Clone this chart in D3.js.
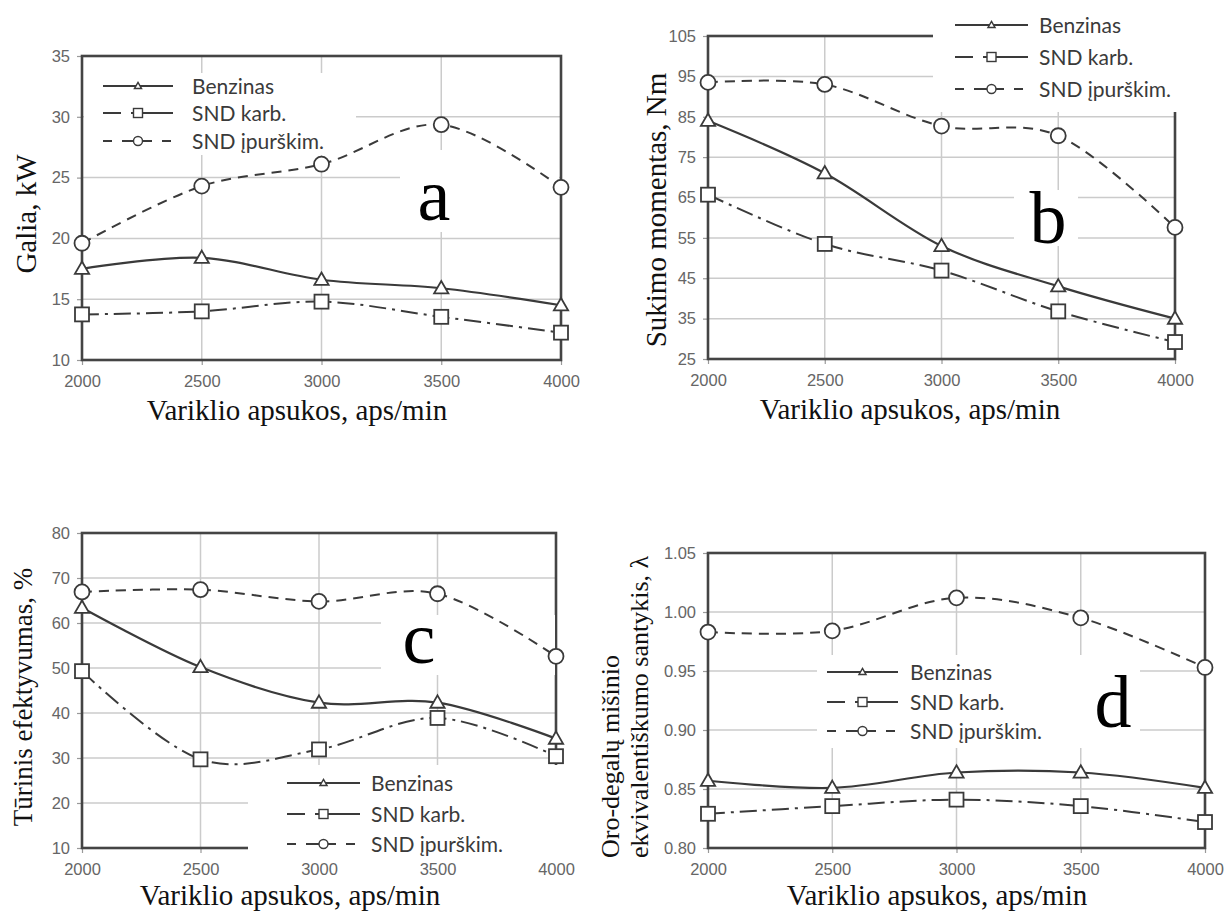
<!DOCTYPE html>
<html><head><meta charset="utf-8">
<script src="https://cdn.jsdelivr.net/npm/d3@7"></script>
<style>body{margin:0;background:#fff}</style>
</head><body><svg id="chart" width="1225" height="911"></svg>
<script>
// ---------- data ----------
const rpm = [2000, 2500, 3000, 3500, 4000];
const xTicks = [2000, 2500, 3000, 3500, 4000];
const seriesNames = ["Benzinas", "SND karb.", "SND įpurškim."];

const galiaBenzinas = [17.5, 18.4, 16.6, 15.9, 14.5];
const galiaKarb = [13.75, 14.0, 14.8, 13.55, 12.25];
const galiaIpurskim = [19.6, 24.3, 26.1, 29.35, 24.2];
const galiaTicks = [10, 15, 20, 25, 30, 35];

const momentBenzinas = [84, 71, 53, 43, 35];
const momentKarb = [65.7, 53.5, 46.9, 36.8, 29.2];
const momentIpurskim = [93.5, 93, 82.7, 80.3, 57.6];
const momentTicks = [25, 35, 45, 55, 65, 75, 85, 95, 105];

const efektBenzinas = [63.4, 50.2, 42.3, 42.3, 34.3];
const efektKarb = [49.3, 29.7, 31.9, 38.9, 30.4];
const efektIpurskim = [66.9, 67.4, 64.8, 66.5, 52.6];
const efektTicks = [10, 20, 30, 40, 50, 60, 70, 80];

const lambdaBenzinas = [0.857, 0.851, 0.864, 0.864, 0.851];
const lambdaKarb = [0.829, 0.8355, 0.841, 0.8355, 0.822];
const lambdaIpurskim = [0.983, 0.984, 1.012, 0.995, 0.953];
const lambdaTicks = [0.80, 0.85, 0.90, 0.95, 1.00, 1.05];

const xTitle = "Variklio apsukos, aps/min";

// ---------- styles ----------
const INK = "#3a3a3a";
const GRID = "#cbcbcb";
const FRAME = "#444";
const TICKTXT = "#666";
const dashes = [null, "17,6,3,6", "10,7"];
const legendDashes = [null, "18,10,200", "9,10,30,10,9"];

const svg = d3.select("#chart");

const panels = [
  { l: 82, r: 561, t: 56, b: 360, ticks: galiaTicks, fmt: d3.format("d"),
    series: [galiaBenzinas, galiaKarb, galiaIpurskim],
    yTitle: ["Galia, kW"], yTitleX: [36], yTitleY: 214, yTitleSize: 29, yAnchor: "middle",
    xTitleX: 297, xTitleDy: 60, letter: "a", letterX: 434, letterY: 220,
    boxes: [[84, 73, 272, 82], [400, 150, 159, 82]],
    legend: { x0: 103, x1: 173, tx: 192, rows: [86, 113, 141] } },
  { l: 708, r: 1175, t: 36, b: 359, ticks: momentTicks, fmt: d3.format("d"),
    series: [momentBenzinas, momentKarb, momentIpurskim],
    yTitle: ["Sukimo momentas, Nm"], yTitleX: [666], yTitleY: 210, yTitleSize: 29, yAnchor: "middle",
    xTitleX: 910, xTitleDy: 60, letter: "b", letterX: 1048, letterY: 243,
    boxes: [[933, 0, 292, 112], [1014, 190, 64, 56]],
    legend: { x0: 955, x1: 1028, tx: 1039, rows: [25, 57, 89] } },
  { l: 82, r: 556, t: 533, b: 848, ticks: efektTicks, fmt: d3.format("d"),
    series: [efektBenzinas, efektKarb, efektIpurskim],
    yTitle: ["Tūrinis efektyvumas, %"], yTitleX: [32], yTitleY: 697, yTitleSize: 27, yAnchor: "middle",
    xTitleX: 290, xTitleDy: 57, letter: "c", letterX: 419, letterY: 663,
    boxes: [[248, 765, 316, 93], [381, 615, 174, 60]],
    legend: { x0: 287, x1: 360, tx: 371, rows: [783, 814, 844] } },
  { l: 708, r: 1205, t: 553, b: 848, ticks: lambdaTicks, fmt: d3.format(".2f"),
    series: [lambdaBenzinas, lambdaKarb, lambdaIpurskim],
    yTitle: ["Oro-degalų mišinio", "ekvivalentiškumo santykis, λ"], yTitleX: [619, 648], yTitleY: 858, yTitleSize: 26, yAnchor: "start",
    xTitleX: 937, xTitleDy: 57, letter: "d", letterX: 1113, letterY: 727,
    boxes: [[817, 655, 323, 93]],
    legend: { x0: 827, x1: 898, tx: 910, rows: [672, 702, 731] } }
];

function marker(g, kind, cx, cy, big) {
  if (kind === 0) {
    const s = big ? 88 : 22;
    g.append("path").attr("d", d3.symbol(d3.symbolTriangle, s)())
      .attr("transform", `translate(${cx},${cy + (big ? 1 : 0.5)})`)
      .attr("fill", "#fff").attr("stroke", INK).attr("stroke-width", big ? 1.8 : 1.4);
  } else if (kind === 1) {
    const h = big ? 7 : 4.5;
    g.append("rect").attr("x", cx - h).attr("y", cy - h).attr("width", 2 * h).attr("height", 2 * h)
      .attr("fill", "#fff").attr("stroke", INK).attr("stroke-width", big ? 1.8 : 1.4);
  } else {
    g.append("circle").attr("cx", cx).attr("cy", cy).attr("r", big ? 7.5 : 4.5)
      .attr("fill", "#fff").attr("stroke", INK).attr("stroke-width", big ? 1.8 : 1.4);
  }
}

panels.forEach(p => {
  const g = svg.append("g");
  const x = d3.scaleLinear().domain([xTicks[0], xTicks[xTicks.length - 1]]).range([p.l, p.r]);
  const y = d3.scaleLinear().domain([p.ticks[0], p.ticks[p.ticks.length - 1]]).range([p.b, p.t]);

  // grid
  g.append("g").selectAll("line").data(p.ticks).join("line")
    .attr("x1", p.l).attr("x2", p.r).attr("y1", d => y(d)).attr("y2", d => y(d))
    .attr("stroke", GRID).attr("stroke-width", 1.5);
  g.append("g").selectAll("line").data(xTicks).join("line")
    .attr("x1", d => x(d)).attr("x2", d => x(d)).attr("y1", p.t).attr("y2", p.b)
    .attr("stroke", GRID).attr("stroke-width", 1.5);

  // axes
  const ya = g.append("g").attr("transform", `translate(${p.l},0)`)
    .call(d3.axisLeft(y).tickValues(p.ticks).tickFormat(p.fmt).tickSize(5).tickPadding(7));
  const xa = g.append("g").attr("transform", `translate(0,${p.b})`)
    .call(d3.axisBottom(x).tickValues(xTicks).tickFormat(d3.format("d")).tickSize(5).tickPadding(10));
  [ya, xa].forEach(a => {
    a.select(".domain").remove();
    a.selectAll("line").attr("stroke", "#999").attr("stroke-width", 1.2);
    a.selectAll("text").attr("fill", TICKTXT).style("font-family", "'Liberation Sans', Arial, sans-serif")
      .style("font-size", "16.5px");
  });

  // frame
  g.append("rect").attr("x", p.l).attr("y", p.t).attr("width", p.r - p.l).attr("height", p.b - p.t)
    .attr("fill", "none").attr("stroke", FRAME).attr("stroke-width", 2.6);

  // white boxes (legend / letter backgrounds)
  p.boxes.forEach(bx => g.append("rect").attr("x", bx[0]).attr("y", bx[1])
    .attr("width", bx[2]).attr("height", bx[3]).attr("fill", "#fff"));

  // letter
  g.append("text").attr("x", p.letterX).attr("y", p.letterY).attr("text-anchor", "middle")
    .style("font-family", "'Liberation Serif', 'Times New Roman', serif").style("font-size", "74px")
    .attr("fill", "#000").text(p.letter);

  // series
  const line = d3.line().x((d, i) => x(rpm[i])).y(d => y(d)).curve(d3.curveCatmullRom.alpha(0));
  p.series.forEach((vals, k) => {
    g.append("path").attr("d", line(vals)).attr("fill", "none").attr("stroke", INK)
      .attr("stroke-width", k === 0 ? 2.2 : 2).attr("stroke-dasharray", dashes[k]);
  });
  p.series.forEach((vals, k) => {
    vals.forEach((v, i) => marker(g, k, x(rpm[i]), y(v), true));
  });

  // legend
  const L = p.legend;
  seriesNames.forEach((name, k) => {
    const yy = L.rows[k];
    g.append("line").attr("x1", L.x0).attr("x2", L.x1).attr("y1", yy).attr("y2", yy)
      .attr("stroke", INK).attr("stroke-width", 2).attr("stroke-dasharray", legendDashes[k]);
    marker(g, k, (L.x0 + L.x1) / 2, yy, false);
    g.append("text").attr("x", L.tx).attr("y", yy).attr("dy", "0.36em").attr("fill", "#3a3a3a")
      .style("font-family", "Lato, 'Open Sans', sans-serif").style("font-size", "21px").text(name);
  });

  // axis titles
  g.append("text").attr("x", p.xTitleX).attr("y", p.b + p.xTitleDy).attr("text-anchor", "middle")
    .style("font-family", "'Liberation Serif', 'Times New Roman', serif").style("font-size", "29px")
    .attr("fill", "#111").text(xTitle);
  p.yTitle.forEach((t, j) => {
    g.append("text").attr("transform", `translate(${p.yTitleX[j]},${p.yTitleY}) rotate(-90)`)
      .attr("text-anchor", p.yAnchor)
      .style("font-family", "'Liberation Serif', 'Times New Roman', serif").style("font-size", p.yTitleSize + "px")
      .attr("fill", "#111").text(t);
  });
});
</script></body></html>
